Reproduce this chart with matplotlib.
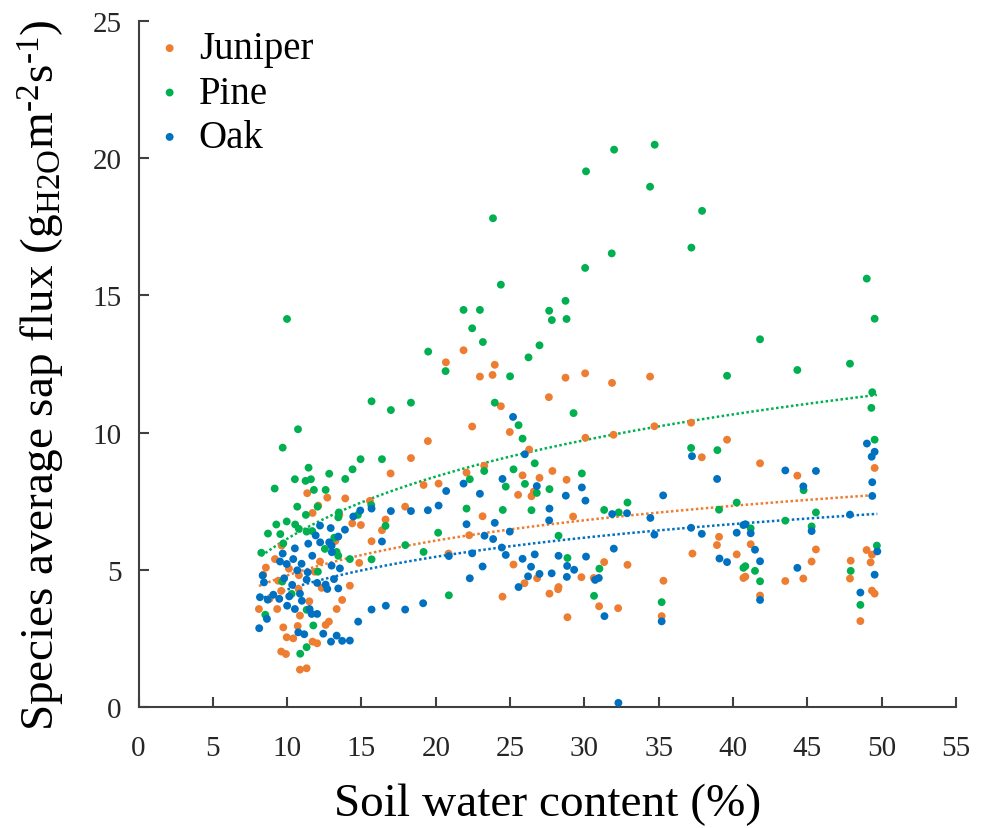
import numpy as np
import matplotlib.pyplot as plt

plt.rcParams['font.family'] = ['Liberation Serif', 'DejaVu Serif']
plt.rcParams['mathtext.fontset'] = 'custom'
plt.rcParams['mathtext.rm'] = 'Liberation Serif'
plt.rcParams['mathtext.it'] = 'Liberation Serif'

# soil water content (%) and species average sap flux, one pair of arrays per species
juniper_x = [23.97, 22.97, 23.82, 28.73, 30.05, 31.86, 34.42, 27.61, 24.38, 21.87,
             20.68, 22.45, 24.98, 19.47, 18.33, 16.96, 26.28, 23.26, 22.07, 27.85,
             25.84, 26.98, 19.18, 20.19, 25.54, 26.44, 26.60, 17.94, 16.62, 16.38,
             15.68, 23.15, 22.25, 20.86, 25.23, 26.82, 25.97, 27.65, 28.26, 24.49,
             30.07, 31.96, 34.71, 37.18, 39.60, 37.90, 28.80, 29.24, 39.06, 38.92,
             37.27, 40.25, 40.70, 28.23, 29.80, 30.63, 31.33, 32.90, 35.32, 35.20,
             30.99, 32.27, 28.86, 41.82, 44.33, 49.53, 41.19, 40.83, 41.82, 43.52,
             44.73, 45.29, 45.58, 47.92, 47.87, 48.99, 49.35, 49.26, 49.35, 49.53,
             48.57, 15.57, 13.91, 12.70, 11.35, 12.09, 11.71, 13.51, 14.38, 14.96,
             14.85, 13.24, 9.18, 12.21, 8.57, 10.12, 10.79, 11.85, 14.22, 12.32,
             10.77, 8.39, 9.60, 8.81, 8.10, 13.70, 13.33, 11.49, 9.33, 10.86,
             12.81, 9.74, 10.71, 12.59, 9.97, 10.41, 11.71, 12.02, 9.60, 9.92,
             10.86, 11.31, 9.63, 9.40]
juniper_y = [12.47, 12.04, 12.10, 12.00, 12.16, 11.81, 12.04, 11.29, 10.96, 13.00,
             12.56, 10.22, 10.02, 9.69, 9.07, 8.51, 9.38, 8.79, 8.54, 8.60,
             8.44, 8.35, 8.09, 8.14, 7.73, 7.68, 7.85, 7.30, 6.83, 6.44,
             6.04, 6.95, 6.26, 5.59, 5.19, 4.69, 4.51, 4.13, 4.37, 4.02,
             9.81, 9.92, 10.23, 10.36, 9.74, 9.10, 8.28, 6.94, 6.20, 5.90,
             5.59, 5.56, 4.70, 4.29, 4.73, 4.70, 5.28, 5.18, 4.60, 3.31,
             3.67, 3.60, 3.27, 8.88, 8.43, 8.71, 5.93, 4.75, 4.06, 4.59,
             4.68, 5.30, 5.74, 5.33, 4.68, 5.72, 5.55, 5.27, 4.24, 4.13,
             3.13, 7.51, 7.60, 7.63, 7.79, 7.34, 7.07, 7.00, 6.69, 6.63,
             5.25, 6.05, 5.39, 5.30, 5.08, 5.04, 4.80, 4.93, 4.42, 4.34,
             4.30, 4.82, 4.23, 3.94, 3.57, 3.90, 3.57, 3.85, 3.57, 3.33,
             3.11, 2.90, 2.95, 2.99, 2.54, 2.50, 2.38, 2.32, 2.02, 1.93,
             1.36, 1.41, 5.88, 4.60]

pine_x = [23.85, 30.11, 32.00, 34.73, 34.42, 37.92, 37.20, 31.84, 30.05, 24.38,
          22.97, 27.63, 28.73, 27.81, 28.80, 23.17, 26.98, 26.24, 25.00, 39.60,
          23.97, 29.27, 25.57, 21.87, 22.45, 19.49, 20.66, 15.68, 16.98, 18.33,
          25.84, 16.38, 23.26, 26.66, 25.23, 22.29, 26.00, 24.71, 26.80, 27.65,
          22.07, 24.51, 26.44, 28.26, 20.16, 16.62, 17.95, 19.18, 15.68, 20.88,
          37.18, 38.95, 29.83, 32.90, 31.33, 32.31, 39.06, 40.25, 28.86, 31.01,
          30.65, 35.20, 40.70, 49.00, 49.53, 41.82, 44.33, 47.87, 49.37, 49.31,
          49.53, 44.75, 45.58, 43.52, 41.19, 45.29, 40.83, 41.48, 41.82, 47.92,
          48.57, 49.68, 9.99, 10.73, 9.70, 11.44, 10.52, 11.24, 11.60, 12.83,
          13.91, 14.40, 14.94, 9.16, 11.80, 12.59, 10.68, 12.05, 13.48, 14.76,
          15.66, 9.27, 9.97, 10.54, 8.71, 9.54, 10.79, 11.31, 11.69, 13.17,
          9.74, 8.26, 13.33, 14.22, 9.67, 10.30, 12.07, 8.53, 11.31, 11.76,
          11.31, 10.88, 11.26, 13.44, 12.54, 13.44]
pine_y = [17.81, 19.52, 20.31, 20.49, 18.96, 18.08, 16.74, 16.53, 16.00, 15.39,
          14.47, 14.44, 14.80, 14.10, 14.14, 13.30, 13.18, 12.74, 12.05, 12.07,
          11.09, 10.71, 10.27, 14.47, 13.80, 12.95, 12.24, 11.14, 10.82, 11.09,
          9.78, 9.03, 8.60, 8.88, 8.66, 8.30, 8.13, 8.03, 7.80, 7.94,
          7.23, 7.18, 7.17, 6.24, 6.35, 6.60, 5.90, 5.65, 5.38, 4.07,
          9.44, 9.36, 8.51, 7.45, 7.18, 7.09, 7.19, 7.45, 5.43, 5.04,
          4.05, 3.82, 5.07, 15.61, 14.15, 13.40, 12.28, 12.51, 11.47, 10.90,
          9.74, 7.90, 7.09, 6.79, 6.51, 6.58, 5.13, 4.96, 4.58, 4.96,
          3.72, 5.88, 14.14, 10.12, 9.45, 8.72, 8.30, 8.24, 8.30, 8.50,
          8.31, 8.66, 9.03, 7.96, 7.91, 7.91, 7.30, 7.30, 7.09, 7.00,
          7.36, 6.65, 6.76, 6.65, 6.32, 6.30, 6.49, 6.39, 6.41, 6.17,
          5.96, 5.62, 5.65, 5.39, 4.57, 4.12, 4.93, 3.36, 3.54, 2.97,
          2.18, 1.94, 7.00, 6.91, 5.76, 5.51]

oak_x = [25.20, 25.99, 24.49, 21.87, 20.70, 22.97, 26.80, 15.68, 16.98, 18.33,
         19.47, 20.19, 27.65, 27.63, 22.07, 23.97, 24.98, 23.28, 23.86, 16.38,
         24.44, 24.71, 20.88, 22.45, 25.84, 26.66, 28.26, 23.15, 26.41, 26.21,
         26.98, 27.80, 22.29, 25.57, 15.68, 16.64, 17.94, 19.15, 37.24, 38.93,
         29.83, 28.75, 30.07, 35.30, 31.87, 32.87, 34.44, 34.71, 37.18, 37.90,
         40.25, 40.70, 30.11, 28.84, 29.31, 28.82, 31.98, 30.72, 30.97, 39.09,
         39.60, 31.35, 35.20, 32.29, 49.01, 49.53, 49.33, 43.52, 45.58, 44.73,
         49.37, 49.37, 47.87, 40.83, 41.19, 45.29, 41.48, 41.82, 44.33, 49.71,
         49.53, 48.57, 41.82, 14.92, 14.45, 13.89, 13.44, 12.93, 12.21, 12.83,
         12.22, 11.42, 11.69, 10.52, 9.70, 10.41, 9.52, 9.97, 10.97, 12.99,
         13.55, 13.15, 10.68, 11.38, 9.80, 10.34, 11.31, 12.02, 12.59, 13.44,
         12.70, 8.35, 8.44, 8.17, 8.69, 9.07, 9.47, 10.14, 10.86, 10.99,
         10.00, 10.52, 11.51, 11.65, 12.02, 8.64, 8.12, 10.75, 11.15, 12.43,
         12.95, 13.33, 13.70, 14.22, 14.78, 11.92, 13.01, 12.99]
oak_y = [10.57, 9.21, 8.31, 8.14, 7.87, 7.77, 8.05, 7.23, 7.14, 7.14,
         7.17, 7.34, 7.23, 6.80, 6.66, 6.71, 6.39, 6.24, 6.12, 6.03,
         5.81, 5.54, 5.50, 5.60, 5.40, 5.56, 5.51, 5.12, 5.11, 4.76,
         4.85, 4.87, 4.69, 4.37, 3.55, 3.69, 3.55, 3.78, 9.14, 8.31,
         8.00, 7.70, 7.52, 7.71, 7.03, 7.06, 6.89, 6.28, 6.53, 6.31,
         6.35, 6.63, 5.48, 5.14, 5.00, 4.74, 5.77, 4.63, 4.70, 5.41,
         5.28, 3.31, 3.12, 0.15, 9.60, 9.30, 9.12, 8.62, 8.60, 8.04,
         8.19, 7.69, 7.01, 6.66, 6.33, 6.41, 5.73, 5.31, 5.07, 5.67,
         4.82, 4.17, 3.90, 7.16, 6.94, 6.46, 6.21, 6.52, 6.61, 6.00,
         6.00, 5.95, 5.51, 5.78, 5.59, 5.39, 5.30, 5.21, 5.22, 5.15,
         5.05, 4.66, 4.98, 4.91, 4.69, 4.45, 4.64, 4.52, 4.46, 4.32,
         4.30, 4.79, 4.54, 4.00, 3.91, 4.09, 3.94, 4.03, 4.13, 3.87,
         3.69, 3.57, 3.57, 3.39, 3.39, 3.21, 2.87, 2.72, 2.65, 2.67,
         2.38, 2.60, 2.41, 2.42, 3.11, 6.25, 5.64, 5.88]

# logarithmic trendlines y = a + b*ln(x)
juniper_fit = (0.58, 1.83)
pine_fit = (-1.40, 3.27)
oak_fit = (0.32, 1.72)

x_ticks = list(range(0, 60, 5))
y_ticks = list(range(0, 30, 5))

series = [
    ('Juniper', juniper_x, juniper_y, juniper_fit, '#ED7D31'),
    ('Pine', pine_x, pine_y, pine_fit, '#00B050'),
    ('Oak', oak_x, oak_y, oak_fit, '#0070C0'),
]

fig = plt.figure(figsize=(9.86, 8.29), dpi=100)
ax = fig.add_axes([0.1405, 0.146, 0.829, 0.8275])

for name, xs, ys, (a, b), color in series:
    ax.scatter(xs, ys, s=32, color=color, edgecolors='none', label=name, zorder=3)
    xx = np.linspace(min(xs), max(xs), 200)
    ax.plot(xx, a + b * np.log(xx), color=color, linestyle=(0, (1, 1)),
            linewidth=1.8, zorder=2)

ax.set_xlim(0, 55)
ax.set_ylim(0, 25)
ax.set_xticks(x_ticks)
ax.set_yticks(y_ticks)

for side in ('top', 'right'):
    ax.spines[side].set_visible(False)
for side in ('left', 'bottom'):
    ax.spines[side].set_color('#404040')
    ax.spines[side].set_linewidth(1.5)

ax.tick_params(direction='in', length=7, width=1.5, color='#404040',
               labelsize=21, labelcolor='#262626')
ax.tick_params(axis='x', pad=20)
ax.tick_params(axis='y', pad=12)

ax.set_xlabel('Soil water content (%)', fontsize=34, labelpad=16)
ax.set_ylabel(r'Species average sap flux (g$_{\mathrm{H2O}}$m$^{\text{-2}}$s$^{\text{-1}}$)',
              fontsize=34)
ax.yaxis.set_label_coords(-0.088, 0.485)

ax.legend(loc='upper left', bbox_to_anchor=(0.0, 1.009), frameon=False,
          fontsize=28, markerscale=1.0, handletextpad=0.35, labelspacing=0.19,
          borderaxespad=0.0, handlelength=0.8)

fig.savefig('out.png', dpi=100)
